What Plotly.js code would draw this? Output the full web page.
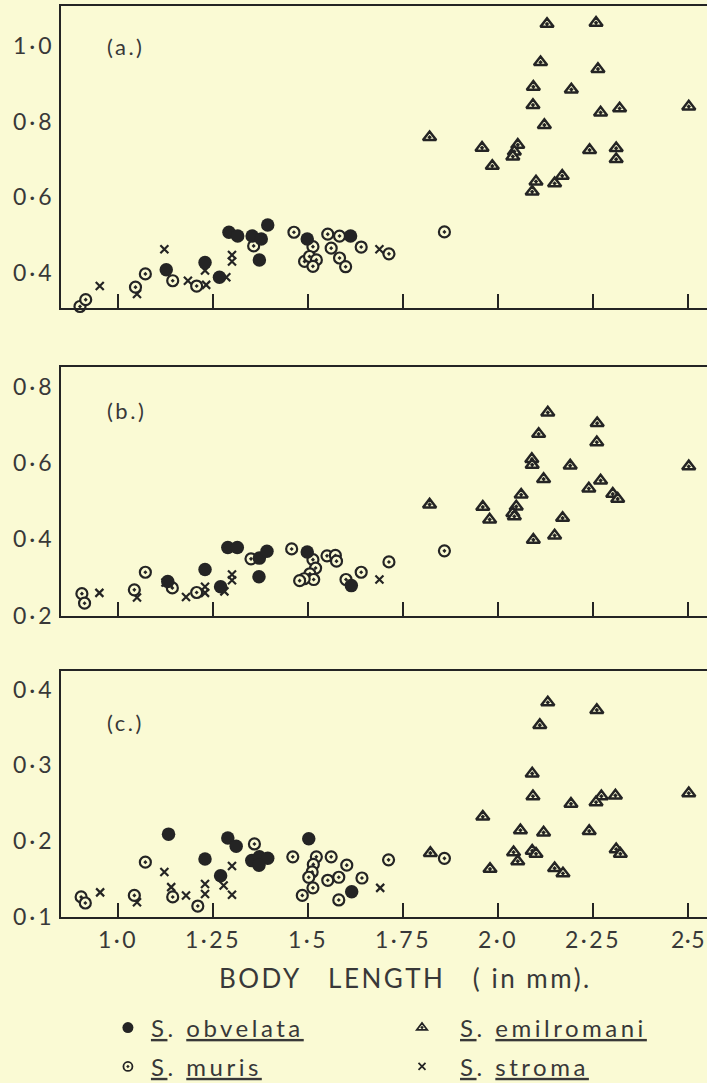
<!DOCTYPE html>
<html>
<head>
<meta charset="utf-8">
<script src="https://cdn.plot.ly/plotly-3.0.1.min.js"></script>
<style>html,body{margin:0;padding:0;background:#FAFAD4;}</style>
</head>
<body>
<div id="chart" style="width:707px;height:1083px;"></div>
<script>
// ---------- data: panel (a) ----------
const aObvelataX = [1.127, 1.229, 1.267, 1.292, 1.315, 1.353, 1.377, 1.372, 1.394, 1.498, 1.612];
const aObvelataY = [0.409, 0.428, 0.389, 0.508, 0.498, 0.498, 0.490, 0.435, 0.527, 0.490, 0.498];
const aMurisX = [0.900, 0.915, 1.046, 1.072, 1.144, 1.207, 1.357, 1.463, 1.513, 1.491, 1.504, 1.522, 1.513, 1.552, 1.583, 1.561, 1.583, 1.599, 1.640, 1.713, 1.859];
const aMurisY = [0.312, 0.330, 0.363, 0.398, 0.380, 0.366, 0.472, 0.508, 0.470, 0.431, 0.444, 0.435, 0.418, 0.503, 0.498, 0.466, 0.440, 0.417, 0.469, 0.451, 0.509];
const aStromaX = [0.952, 1.050, 1.122, 1.184, 1.232, 1.229, 1.285, 1.300, 1.300, 1.688];
const aStromaY = [0.366, 0.345, 0.463, 0.380, 0.369, 0.407, 0.389, 0.448, 0.431, 0.463];
const aEmilX = [2.129, 2.258, 2.112, 2.263, 2.093, 2.193, 2.092, 2.270, 2.320, 2.502, 2.122, 1.820, 1.958, 2.052, 2.043, 2.039, 1.985, 2.241, 2.311, 2.311, 2.169, 2.149, 2.100, 2.090];
const aEmilY = [1.058, 1.061, 0.957, 0.939, 0.892, 0.885, 0.844, 0.824, 0.835, 0.840, 0.791, 0.759, 0.731, 0.739, 0.721, 0.708, 0.683, 0.725, 0.730, 0.701, 0.657, 0.637, 0.642, 0.615];

// ---------- data: panel (b) ----------
const bObvelataX = [1.131, 1.229, 1.270, 1.289, 1.314, 1.372, 1.392, 1.371, 1.498, 1.614];
const bObvelataY = [0.290, 0.321, 0.276, 0.379, 0.379, 0.351, 0.369, 0.302, 0.367, 0.279];
const bMurisX = [0.905, 0.912, 1.043, 1.072, 1.143, 1.207, 1.350, 1.457, 1.513, 1.520, 1.505, 1.515, 1.490, 1.478, 1.550, 1.572, 1.575, 1.600, 1.640, 1.713, 1.859];
const bMurisY = [0.258, 0.233, 0.268, 0.314, 0.273, 0.261, 0.349, 0.375, 0.347, 0.325, 0.310, 0.295, 0.297, 0.292, 0.357, 0.358, 0.343, 0.295, 0.314, 0.341, 0.370];
const bStromaX = [0.951, 1.050, 1.125, 1.179, 1.229, 1.229, 1.280, 1.300, 1.300, 1.688];
const bStromaY = [0.260, 0.248, 0.287, 0.249, 0.276, 0.260, 0.264, 0.308, 0.293, 0.295];
const bEmilX = [2.131, 2.261, 2.107, 2.260, 2.089, 2.090, 2.190, 2.502, 2.120, 2.270, 2.239, 2.302, 2.315, 1.820, 1.960, 2.061, 2.048, 2.039, 1.978, 2.170, 2.093, 2.149, 2.043];
const bEmilY = [0.732, 0.704, 0.676, 0.654, 0.610, 0.595, 0.593, 0.591, 0.558, 0.554, 0.533, 0.519, 0.506, 0.491, 0.485, 0.517, 0.486, 0.469, 0.452, 0.456, 0.399, 0.410, 0.460];

// ---------- data: panel (c) ----------
const cObvelataX = [1.133, 1.229, 1.270, 1.289, 1.311, 1.352, 1.372, 1.394, 1.371, 1.502, 1.615];
const cObvelataY = [0.209, 0.176, 0.154, 0.204, 0.193, 0.174, 0.179, 0.177, 0.168, 0.203, 0.133];
const cMurisX = [0.903, 0.914, 1.043, 1.072, 1.144, 1.210, 1.359, 1.460, 1.522, 1.514, 1.511, 1.502, 1.513, 1.485, 1.561, 1.602, 1.552, 1.581, 1.642, 1.581, 1.712, 1.859];
const cMurisY = [0.126, 0.118, 0.128, 0.172, 0.126, 0.114, 0.196, 0.179, 0.179, 0.169, 0.159, 0.152, 0.138, 0.128, 0.179, 0.168, 0.148, 0.152, 0.151, 0.122, 0.175, 0.177];
const cStromaX = [0.953, 1.050, 1.122, 1.140, 1.179, 1.229, 1.229, 1.278, 1.300, 1.300, 1.690];
const cStromaY = [0.132, 0.119, 0.159, 0.139, 0.128, 0.143, 0.130, 0.141, 0.167, 0.129, 0.138];
const cEmilX = [2.131, 2.260, 2.110, 2.090, 2.092, 2.192, 2.272, 2.258, 2.309, 2.502, 1.960, 2.059, 2.120, 2.240, 1.822, 2.041, 2.052, 2.090, 2.100, 2.311, 2.322, 1.979, 2.149, 2.171];
const cEmilY = [0.383, 0.373, 0.353, 0.289, 0.259, 0.249, 0.259, 0.251, 0.260, 0.263, 0.232, 0.214, 0.211, 0.213, 0.184, 0.185, 0.173, 0.187, 0.183, 0.189, 0.183, 0.163, 0.164, 0.157];

// ---------- tick labels ----------
const xTickVals = [1.0, 1.25, 1.5, 1.75, 2.0, 2.25, 2.5];
const xTickText = ['1·0', '1·25', '1·5', '1·75', '2·0', '2·25', '2·5'];
const aTickVals = [0.4, 0.6, 0.8, 1.0];
const aTickText = ['0·4', '0·6', '0·8', '1·0'];
const bTickVals = [0.2, 0.4, 0.6, 0.8];
const bTickText = ['0·2', '0·4', '0·6', '0·8'];
const cTickVals = [0.1, 0.2, 0.3, 0.4];
const cTickText = ['0·1', '0·2', '0·3', '0·4'];
const speciesNames = ['obvelata', 'muris', 'emilromani', 'stroma'];
const panelLabels = ['(a.)', '(b.)', '(c.)'];
const xTitle = 'BODY\u00a0\u00a0\u00a0LENGTH\u00a0\u00a0\u00a0(\u00a0in\u00a0mm).';

// ---------- styling ----------
const BG = '#FAFAD4';
const INK = '#242424';
const TXT = '#383838';
const FONT = 'Lato, "Noto Sans", sans-serif';

function spaced(s, px) { return "<span style='letter-spacing:" + px + "px'>" + s + "</span>"; }
function u(s) { return "<span style='text-decoration:underline'>" + s + "</span>"; }
function legendName(sp) { return spaced(u('S') + '. ' + u(sp), 3.5); }

const styles = {
  obvelata:   {symbol: 'circle', size: 13.5, color: INK, line: {width: 0, color: INK}},
  muris:      {symbol: 'circle-dot', size: 11, color: BG, line: {width: 2.2, color: INK}},
  emilromani: {symbol: 'triangle-up-dot', size: 11.5, color: BG, line: {width: 2.5, color: INK}},
  stroma:     {symbol: 'x-thin', size: 8, color: INK, line: {width: 2.2, color: INK}}
};
const legendStyles = {
  obvelata:   {symbol: 'circle', size: 11, color: INK, line: {width: 0, color: INK}},
  muris:      {symbol: 'circle-dot', size: 9, color: BG, line: {width: 1.8, color: INK}},
  emilromani: {symbol: 'triangle-up-dot', size: 9, color: BG, line: {width: 1.8, color: INK}},
  stroma:     {symbol: 'x-thin', size: 7, color: INK, line: {width: 1.8, color: INK}}
};

const panels = [
  {xa: 'x',  ya: 'y',  data: {obvelata: [aObvelataX, aObvelataY], muris: [aMurisX, aMurisY], emilromani: [aEmilX, aEmilY], stroma: [aStromaX, aStromaY]}},
  {xa: 'x2', ya: 'y2', data: {obvelata: [bObvelataX, bObvelataY], muris: [bMurisX, bMurisY], emilromani: [bEmilX, bEmilY], stroma: [bStromaX, bStromaY]}},
  {xa: 'x3', ya: 'y3', data: {obvelata: [cObvelataX, cObvelataY], muris: [cMurisX, cMurisY], emilromani: [cEmilX, cEmilY], stroma: [cStromaX, cStromaY]}}
];

const traces = [];
const drawOrder = ['emilromani', 'stroma', 'muris', 'obvelata'];
panels.forEach(p => {
  drawOrder.forEach(sp => {
    traces.push({
      type: 'scatter', mode: 'markers',
      x: p.data[sp][0], y: p.data[sp][1],
      xaxis: p.xa, yaxis: p.ya,
      name: 'S. ' + sp, showlegend: false, cliponaxis: false,
      marker: styles[sp], hoverinfo: 'x+y+name'
    });
  });
});

// legend-only entries (one legend per entry, laid out as in the original key)
const legendIds = {obvelata: 'legend', emilromani: 'legend2', muris: 'legend3', stroma: 'legend4'};
speciesNames.forEach(sp => {
  traces.push({
    type: 'scatter', mode: 'markers', x: [null], y: [null], xaxis: 'x3', yaxis: 'y3',
    name: legendName(sp), legend: legendIds[sp], showlegend: true,
    marker: legendStyles[sp]
  });
});

function xAxis(anchor, showLabels) {
  return {
    anchor: anchor, domain: [0, 1], range: [0.85, 2.55],
    tickmode: 'array', tickvals: xTickVals,
    ticktext: xTickText.map((t, i) => spaced(t, i === xTickText.length - 1 ? 0.5 : 2.5)),
    ticks: 'inside', ticklen: 14, tickwidth: 1.8, tickcolor: INK,
    showticklabels: showLabels, tickfont: {family: FONT, size: 23, color: TXT},
    ticklabelstandoff: 2, ticklabeloverflow: 'allow',
    showline: true, linecolor: INK, linewidth: 1.8, mirror: true,
    showgrid: false, zeroline: false, fixedrange: true, automargin: false
  };
}
function yAxis(anchor, domain, range, vals, text) {
  return {
    anchor: anchor, domain: domain, range: range,
    tickmode: 'array', tickvals: vals, ticktext: text.map(t => spaced(t, 3)),
    ticks: '', ticklabelstandoff: 0, ticklabeloverflow: 'allow',
    tickfont: {family: FONT, size: 23, color: TXT},
    showline: true, linecolor: INK, linewidth: 1.8,
    showgrid: false, zeroline: false, fixedrange: true, automargin: false
  };
}

function legendBox(x, y, itemw) {
  return {x: x, y: y, xanchor: 'left', yanchor: 'middle', orientation: 'h',
          itemwidth: itemw,
          bgcolor: 'rgba(0,0,0,0)', borderwidth: 0,
          font: {family: FONT, size: 24, color: TXT}};
}

const panelFont = {family: FONT, size: 22, color: TXT};
const layout = {
  width: 707, height: 1083,
  paper_bgcolor: BG, plot_bgcolor: BG,
  margin: {l: 61, r: 0, t: 6, b: 166, autoexpand: false},
  showlegend: true,
  xaxis: xAxis('y', false),
  xaxis2: xAxis('y2', false),
  xaxis3: xAxis('y3', true),
  yaxis: yAxis('x', [0.6685, 1.0], [0.308, 1.1055], aTickVals, aTickText),
  yaxis2: yAxis('x2', [0.3304, 0.6041], [0.1995, 0.852], bTickVals, bTickText),
  yaxis3: yAxis('x3', [0.0, 0.2700], [0.0995, 0.4245], cTickVals, cTickText),
  legend: legendBox(0.068, -0.1218, 36),
  legend2: legendBox(0.50, -0.1218, 66),
  legend3: legendBox(0.068, -0.1645, 36),
  legend4: legendBox(0.50, -0.1645, 66),
  annotations: [
    {text: spaced(panelLabels[0], 2.5), xref: 'paper', yref: 'paper', x: 0.068, y: 0.956, xanchor: 'left', yanchor: 'middle', showarrow: false, font: panelFont},
    {text: spaced(panelLabels[1], 2.5), xref: 'paper', yref: 'paper', x: 0.068, y: 0.5565, xanchor: 'left', yanchor: 'middle', showarrow: false, font: panelFont},
    {text: spaced(panelLabels[2], 2.5), xref: 'paper', yref: 'paper', x: 0.068, y: 0.214, xanchor: 'left', yanchor: 'middle', showarrow: false, font: panelFont},
    {text: spaced(xTitle, 2.5), xref: 'paper', yref: 'paper',
     x: (406 - 61) / 646, y: -0.067, xanchor: 'center', yanchor: 'middle', showarrow: false,
     font: {family: FONT, size: 26, color: TXT}}
  ]
};

Plotly.newPlot('chart', traces, layout, {displayModeBar: false, staticPlot: true});
</script>
</body>
</html>
